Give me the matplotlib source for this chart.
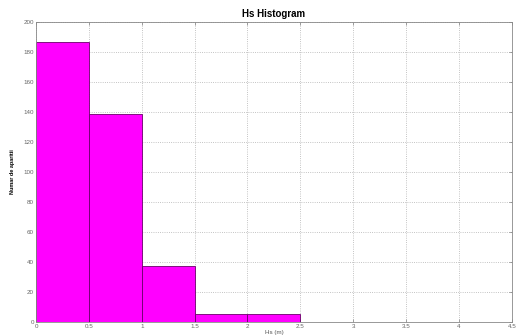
import matplotlib.pyplot as plt
import numpy as np

plt.rcParams['font.family'] = ['Liberation Sans', 'DejaVu Sans']

# Hs histogram data (bin edges and counts)
bin_edges = [0, 0.5, 1.0, 1.5, 2.0, 2.5]
counts = [187, 139, 37, 5, 5]
x_ticks = [0, 0.5, 1, 1.5, 2, 2.5, 3, 3.5, 4, 4.5]
x_tick_labels = ['0', '0.5', '1', '1.5', '2', '2.5', '3', '3.5', '4', '4.5']
y_ticks = list(range(0, 201, 20))

fig = plt.figure(figsize=(5.18, 3.35), dpi=100)
ax = fig.add_axes([0.0695, 0.039, 0.9185, 0.895])

lefts = np.array(bin_edges[:-1])
widths = np.diff(bin_edges)
ax.bar(lefts, counts, width=widths, align='edge', color='#ff00ff',
       edgecolor='#6a006a', linewidth=0.6, zorder=2)

ax.set_xlim(0, 4.5)
ax.set_ylim(0, 200)
ax.set_xticks(x_ticks)
ax.set_xticklabels(x_tick_labels)
ax.set_yticks(y_ticks)
ax.grid(True, linestyle=':', color='#b0b0b0', linewidth=0.6, zorder=0)
ax.set_axisbelow(True)

ax.tick_params(labelsize=4.5, colors='#666666', length=2, width=0.4,
               direction='in', pad=1.5, top=True, right=True)
for s in ax.spines.values():
    s.set_color('#888888')
    s.set_linewidth(0.6)

ax.set_title('Hs Histogram', fontsize=7, fontweight='bold', pad=4)
ax.set_ylabel('Numar de aparitii', fontsize=4, fontweight='bold', labelpad=6)
ax.set_xlabel('Hs (m)', fontsize=4.5, color='#555555', labelpad=1)

fig.savefig('out.png', dpi=100, facecolor='white')
